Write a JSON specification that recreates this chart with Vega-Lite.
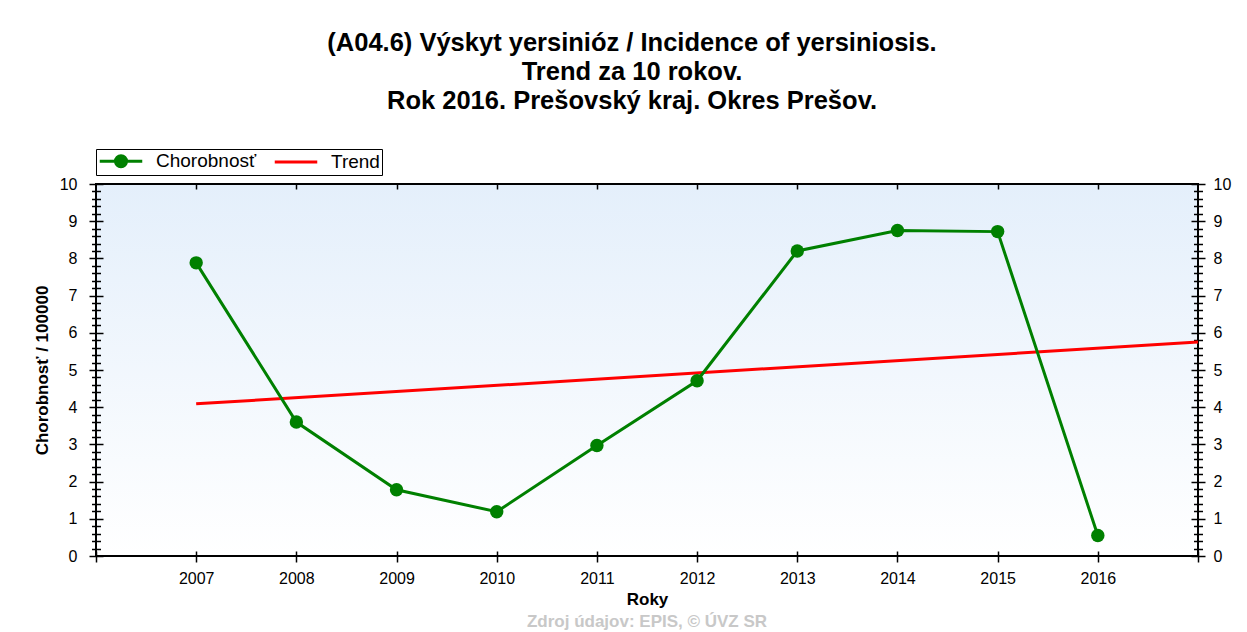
{
  "$schema": "https://vega.github.io/schema/vega-lite/v6.json",
  "padding": {"left": 32, "top": 31, "right": 5, "bottom": 5},
  "background": "#ffffff",
  "title": {
    "text": ["(A04.6) Výskyt yersinióz / Incidence of yersiniosis.", "Trend za 10 rokov.", "Rok 2016. Prešovský kraj. Okres Prešov."],
    "font": "Liberation Sans",
    "fontSize": 25.5,
    "fontWeight": "bold",
    "lineHeight": 29,
    "color": "#000000",
    "anchor": "middle",
    "offset": 34
  },
  "datasets": {
    "incidence": [
      {"year": 2007, "value": 7.88, "series": "Chorobnosť"},
      {"year": 2008, "value": 3.60, "series": "Chorobnosť"},
      {"year": 2009, "value": 1.78, "series": "Chorobnosť"},
      {"year": 2010, "value": 1.19, "series": "Chorobnosť"},
      {"year": 2011, "value": 2.97, "series": "Chorobnosť"},
      {"year": 2012, "value": 4.71, "series": "Chorobnosť"},
      {"year": 2013, "value": 8.20, "series": "Chorobnosť"},
      {"year": 2014, "value": 8.75, "series": "Chorobnosť"},
      {"year": 2015, "value": 8.72, "series": "Chorobnosť"},
      {"year": 2016, "value": 0.55, "series": "Chorobnosť"}
    ],
    "trend": [
      {"year": 2007, "value": 4.09, "series": "Trend"},
      {"year": 2017, "value": 5.75, "series": "Trend"}
    ]
  },
  "vconcat": [
    {
      "title": {
        "text": "Zdroj údajov: EPIS, © ÚVZ SR",
        "orient": "bottom",
        "anchor": "middle",
        "font": "Liberation Sans",
        "fontSize": 17,
        "fontWeight": "bold",
        "color": "#c8c8c8",
        "offset": 7
      },
      "width": 1102,
      "height": 372,
      "layer": [
        {
          "data": {"name": "trend"},
          "mark": {"type": "line", "strokeWidth": 3, "opacity": 0},
          "encoding": {
            "x": {"field": "year", "type": "quantitative", "scale": {"domain": [2006, 2017], "nice": false, "zero": false}, "axis": null},
            "y": {"field": "value", "type": "quantitative", "scale": {"domain": [0, 10], "nice": false},
              "axis": {"orient": "left", "values": [0.2,0.4,0.6,0.8,1.2,1.4,1.6,1.8,2.2,2.4,2.6,2.8,3.2,3.4,3.6,3.8,4.2,4.4,4.6,4.8,5.2,5.4,5.6,5.8,6.2,6.4,6.6,6.8,7.2,7.4,7.6,7.8,8.2,8.4,8.6,8.8,9.2,9.4,9.6,9.8],
                "labels": false, "title": null, "tickSize": 9, "offset": -4.5, "domain": false, "grid": false}}
          }
        },
        {
          "data": {"name": "trend"},
          "mark": {"type": "line", "strokeWidth": 3, "opacity": 0},
          "encoding": {
            "x": {"field": "year", "type": "quantitative", "scale": {"domain": [2006, 2017], "nice": false, "zero": false}, "axis": null},
            "y": {"field": "value", "type": "quantitative", "scale": {"domain": [0, 10], "nice": false},
              "axis": {"orient": "right", "values": [0.2,0.4,0.6,0.8,1.2,1.4,1.6,1.8,2.2,2.4,2.6,2.8,3.2,3.4,3.6,3.8,4.2,4.4,4.6,4.8,5.2,5.4,5.6,5.8,6.2,6.4,6.6,6.8,7.2,7.4,7.6,7.8,8.2,8.4,8.6,8.8,9.2,9.4,9.6,9.8],
                "labels": false, "title": null, "tickSize": 9, "offset": -4.5, "domain": false, "grid": false}}
          }
        },
        {
          "data": {"name": "trend"},
          "mark": {"type": "line", "strokeWidth": 3},
          "encoding": {
            "x": {"field": "year", "type": "quantitative", "scale": {"domain": [2006, 2017], "nice": false, "zero": false},
              "axis": {"orient": "top", "values": [2007,2008,2009,2010,2011,2012,2013,2014,2015,2016], "labels": false, "title": null, "tickSize": 5, "offset": -5, "domain": false, "grid": false}},
            "y": {"field": "value", "type": "quantitative", "scale": {"domain": [0, 10], "nice": false},
              "axis": {"orient": "right", "values": [0,1,2,3,4,5,6,7,8,9,10], "title": null, "tickSize": 14, "offset": -7, "labelPadding": 8, "domain": false, "grid": false}},
            "color": {"field": "series", "type": "nominal", "scale": {"domain": ["Chorobnosť", "Trend"], "range": ["#008000", "#ff0000"]}}
          }
        },
        {
          "data": {"name": "incidence"},
          "mark": {"type": "line", "strokeWidth": 3, "point": {"filled": true, "size": 180, "opacity": 1}},
          "encoding": {
            "x": {"field": "year", "type": "quantitative", "scale": {"domain": [2006, 2017], "nice": false, "zero": false},
              "axis": {"orient": "bottom", "values": [2006,2007,2008,2009,2010,2011,2012,2013,2014,2015,2016,2017], "format": "d",
                "labelExpr": "datum.value < 2007 || datum.value > 2016 ? '' : datum.label",
                "title": "Roky", "tickSize": 11, "offset": -5, "labelPadding": 8, "titlePadding": 5, "domain": false, "grid": false}},
            "y": {"field": "value", "type": "quantitative", "scale": {"domain": [0, 10], "nice": false},
              "axis": {"orient": "left", "values": [0,1,2,3,4,5,6,7,8,9,10], "title": "Chorobnosť / 100000", "tickSize": 14, "offset": -7, "labelPadding": 12, "titlePadding": 8, "domain": false, "grid": false}},
            "color": {"field": "series", "type": "nominal", "scale": {"domain": ["Chorobnosť", "Trend"], "range": ["#008000", "#ff0000"]},
              "legend": {
                "labelExpr": "datum.label === 'Trend' ? datum.label + '\u00a0\u00a0\u00a0\u00a0\u00a0\u00a0\u00a0\u00a0\u00a0\u00a0\u00a0' : datum.label",
                "encode": {
                  "symbols": {
                    "update": {
                      "shape": {"signal": "datum.value === 'Chorobnosť' ? 'M-2.5,0L2.5,0M-0.65,0A0.65,0.65,0,1,1,0.65,0A0.65,0.65,0,1,1,-0.65,0Z' : 'M-2.5,0L2.5,0'"},
                      "fill": {"signal": "datum.value === 'Chorobnosť' ? '#008000' : 'transparent'"},
                      "opacity": {"value": 1}
                    }
                  }
                }
              }}
          }
        }
      ],
      "resolve": {"scale": {"x": "independent", "y": "independent"}}
    }
  ],
  "config": {
    "font": "Liberation Sans",
    "view": {
      "stroke": "#000000",
      "strokeWidth": 2,
      "fill": {"gradient": "linear", "x1": 0, "y1": 0, "x2": 0, "y2": 1, "stops": [{"offset": 0, "color": "#e4effb"}, {"offset": 1, "color": "#ffffff"}]}
    },
    "legend": {
      "orient": "none", "legendX": 0, "legendY": -35, "direction": "horizontal", "title": null,
      "strokeColor": "#000000", "fillColor": "#ffffff", "padding": 2, "cornerRadius": 0,
      "labelFont": "Liberation Sans", "labelFontSize": 19, "labelColor": "#000000", "labelLimit": 300,
      "symbolSize": 289, "symbolStrokeWidth": 3, "symbolOffset": 13, "labelOffset": 25, "columnPadding": 11,
      "symbolType": "M-2.5,0L2.5,0"
    },
    "axis": {
      "labelFont": "Liberation Sans",
      "labelFontSize": 16,
      "labelColor": "#000000",
      "tickColor": "#000000",
      "tickWidth": 1.5,
      "titleFont": "Liberation Sans",
      "titleFontSize": 17,
      "titleFontWeight": "bold",
      "titleColor": "#000000"
    }
  }
}
